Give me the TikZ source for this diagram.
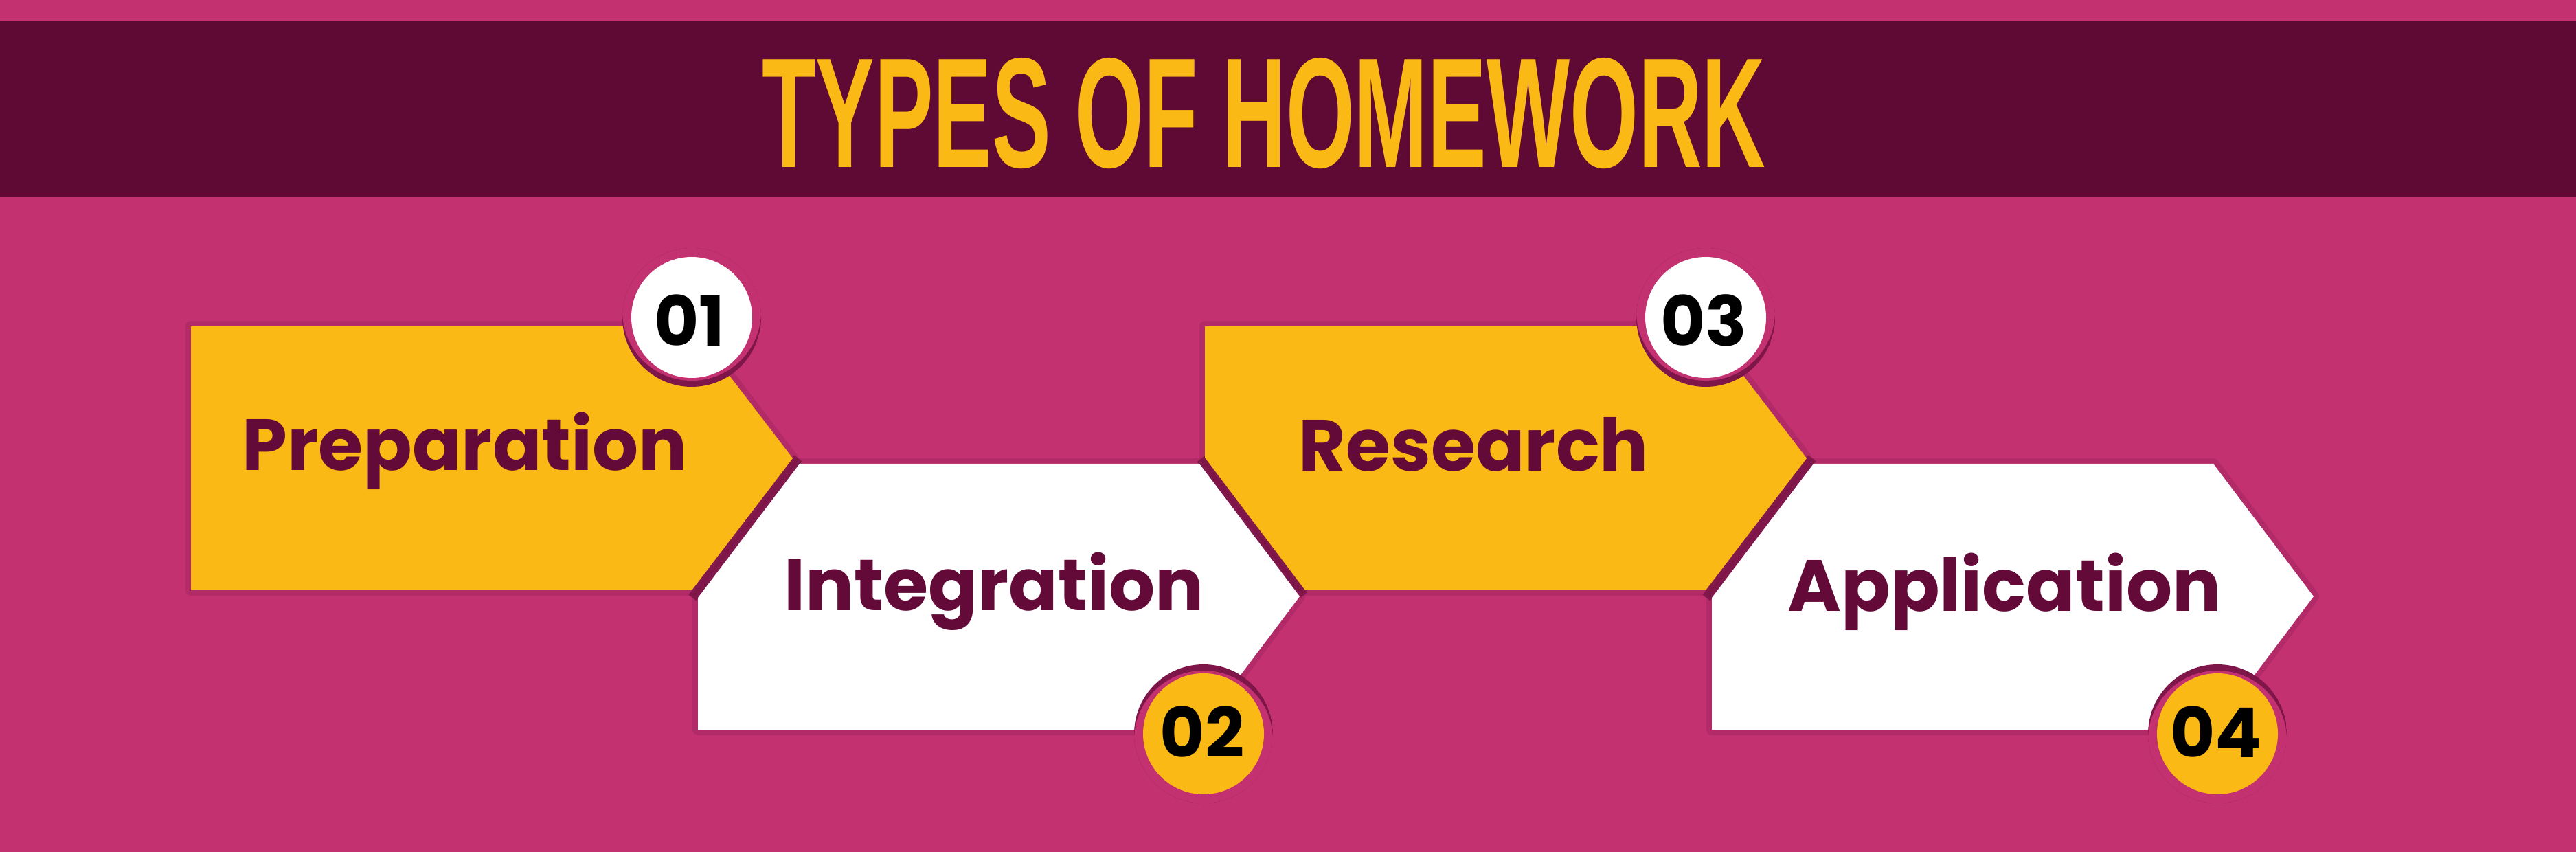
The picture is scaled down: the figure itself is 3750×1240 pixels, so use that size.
\documentclass[tikz,border=0pt]{standalone}
\usepackage{fontspec}
\usepackage{graphicx}
\usepackage{xcolor}
\setmainfont{Poppins}
\newfontfamily\titlefont{Liberation Sans}
\definecolor{bg}{HTML}{C33171}
\definecolor{band}{HTML}{5F0935}
\definecolor{gold}{HTML}{FBB916}
\definecolor{wine}{HTML}{640A38}
\definecolor{shade}{HTML}{6E0F3F}

\tikzset{
  halo/.style={fill=shade, draw=shade, line width=1.6mm, line join=round, opacity=.2},
  gapline/.style={draw=shade!70!bg, line width=1.4mm},
  goldbox/.style={fill=gold, preaction={halo}},
  whitebox/.style={fill=white, preaction={halo}},
  steplabel/.style={font=\fontsize{30}{36}\selectfont\bfseries, text=wine, inner sep=0pt, anchor=base west},
  stepnum/.style={font=\fontsize{28.5}{32}\selectfont\bfseries, text=black, inner sep=0pt},
}

\begin{document}
\begin{tikzpicture}[x=0.01cm, y=-0.01cm]
    \useasboundingbox (0,0) rectangle (3750,1240);
    \fill[bg] (0,0) rectangle (3750,1240);
    \fill[band] (0,31) rectangle (3750,286);
    \node[inner sep=0pt] (title) at (1840,165)
      {\scalebox{0.563}[1]{\titlefont\bfseries\fontsize{64.8}{70}\selectfont\color{gold}TYPES OF HOMEWORK}};

    \draw[gapline] (1162,667) -- (1008,870);
    \draw[gapline] (1748,668) -- (1898,866);
    \draw[gapline] (2638,667) -- (2484,870);

    \fill[goldbox] (278,475) -- (1007,475) -- (1154,667) -- (1007,859) -- (278,859) -- cycle;
    \fill[whitebox] (1164,675) -- (1746,675) -- (1892,868) -- (1746,1062) -- (1016,1062) -- (1016,870) -- cycle;
    \fill[goldbox] (1754,475) -- (2483,475) -- (2630,667) -- (2483,859) -- (1900,859) -- (1754,666) -- cycle;
    \fill[whitebox] (2640,675) -- (3222,675) -- (3368,868) -- (3222,1062) -- (2492,1062) -- (2492,870) -- cycle;

    \coordinate (c1) at (1007,462);
    \coordinate (c2) at (1752,1068);
    \coordinate (c3) at (2483,462);
    \coordinate (c4) at (3228,1068);

    \foreach \c/\s/\col in {c1/-9/white, c2/9/gold, c3/-9/white, c4/9/gold}{
      \begin{scope}
        \clip (\c) circle (101);
        \fill[shade!80!bg] (\c) circle (101);
        \fill[bg] ([yshift=\s*-0.01cm]\c) circle (101);
      \end{scope}
      \fill[\col] (\c) circle (88);
    }

    \node[stepnum] (n1) at (1004,466) {01};
    \node[stepnum] (n2) at (1750,1065) {02};
    \node[stepnum] (n3) at (2480,466) {03};
    \node[stepnum] (n4) at (3226,1065) {04};

    \node[steplabel] (prep) at (352,685) {Preparation};
    \node[steplabel] (integ) at (1141,889) {Integration};
    \node[steplabel] (res) at (1890,686) {Research};
    \node[steplabel] (appl) at (2602,890) {Application};
\end{tikzpicture}
\end{document}
